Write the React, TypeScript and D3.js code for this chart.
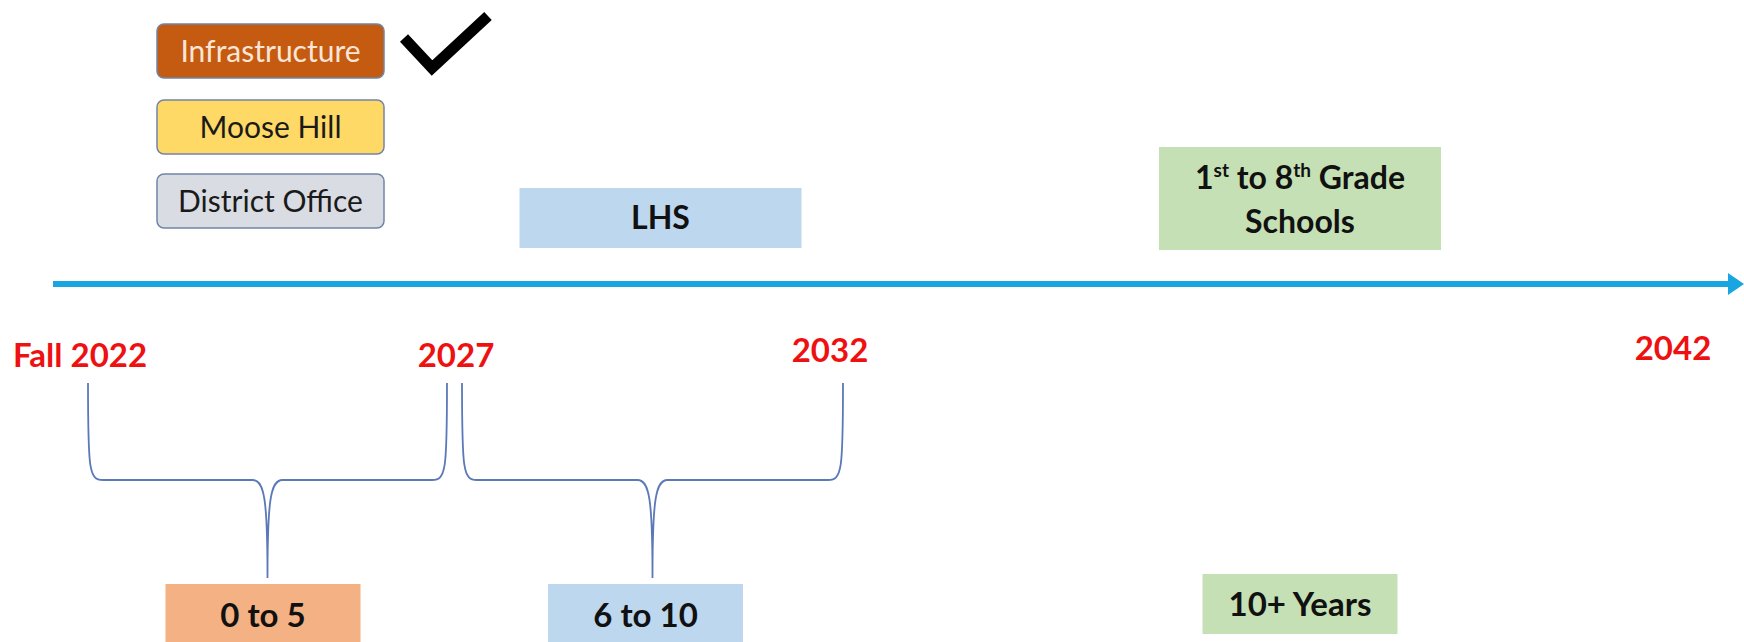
import React from "react";
import * as d3 from "d3";

// ---- data ----
const yearValues = [2022, 2027, 2032, 2042];
const yearLabels = ["Fall 2022", "2027", "2032", "2042"];
const legendLabels = ["Infrastructure", "Moose Hill", "District Office"];
const legendDone = [true, false, false];
const periodLabels = ["0 to 5", "6 to 10", "10+ Years"];
const periodStart = [2022, 2027, 2032];
const periodEnd = [2027, 2032, 2042];
const periodBraced = [true, true, false];
const projectLines = [["LHS"], ["1st to 8th Grade", "Schools"]];
const projectPeriod = [1, 2];

// ---- styles / layout ----
const W = 1744;
const H = 642;
const FONT = "Lato, 'Open Sans', sans-serif";
const legendFill = ["#C55A11", "#FFD966", "#D9DCE2"];
const legendText = ["#FBE5D6", "#1a1a1a", "#1a1a1a"];
const periodFill = ["#F4B183", "#BDD7EE", "#C5E0B4"];
const projectFill = ["#BDD7EE", "#C5E0B4"];

const x = d3.scaleLinear().domain(yearValues).range([88, 454, 843, 1673]);
const labelShift = [-8, 2, -13, 0];
const labelBaseline = [367, 367, 362, 360];
const periodBoxCenterShift = [-8, -3, 42];
const projectBoxCenterShift = [12, 42];

const axisY = 284;
const braceTop = 383;
const braceMid = 480;
const braceTip = 578;

function bracePath(x0: number, x1: number) {
  const cx = (x0 + x1) / 2;
  const r = 15;
  const p = d3.path();
  p.moveTo(x0, braceTop);
  p.bezierCurveTo(x0, braceMid - 10, x0 + 1, braceMid, x0 + r, braceMid);
  p.lineTo(cx - r, braceMid);
  p.bezierCurveTo(cx - 3, braceMid, cx, braceMid + 20, cx, braceTip);
  p.moveTo(cx, braceTip);
  p.bezierCurveTo(cx, braceMid + 20, cx + 3, braceMid, cx + r, braceMid);
  p.lineTo(x1 - r, braceMid);
  p.bezierCurveTo(x1 - 1, braceMid, x1, braceMid - 10, x1, braceTop);
  return p.toString();
}

function renderProjectLine(line: string, key: number, y: number, cx: number) {
  const parts = line.split(/(\d)(st|th)/).filter((s) => s !== "");
  const out: React.ReactNode[] = [];
  let sup = false;
  parts.forEach((s, i) => {
    if (s === "st" || s === "th") {
      out.push(
        <tspan key={i} fontSize={19} dy={-12}>
          {s}
        </tspan>
      );
      sup = true;
    } else {
      out.push(
        <tspan key={i} dy={sup ? 12 : 0}>
          {s}
        </tspan>
      );
      sup = false;
    }
  });
  return (
    <text key={key} x={cx} y={y} textAnchor="middle" fontFamily={FONT} fontWeight={700} fontSize={32} fill="#111">
      {out}
    </text>
  );
}

export default function App() {
  const legendX = 157;
  const legendW = 227;
  const legendH = 54;
  const legendY = [24, 100, 174];

  return (
    <svg width={W} height={H} style={{ position: "absolute", left: 0, top: 0, background: "#fff" }}>
      <rect x={0} y={0} width={W} height={H} fill="#fff" />
      {/* legend */}
      {legendLabels.map((l, i) => (
        <g key={l}>
          <rect x={legendX} y={legendY[i]} width={legendW} height={legendH} rx={7} fill={legendFill[i]} stroke="#7085A8" strokeWidth={1.5} />
          <text
            x={legendX + legendW / 2}
            y={legendY[i] + legendH / 2 + 11}
            textAnchor="middle"
            fontFamily={FONT}
            fontSize={30}
            fill={legendText[i]}
          >
            {l}
          </text>
          {legendDone[i] && (
            <polyline
              points={`${legendX + 247},${legendY[i] + 14} ${legendX + 275},${legendY[i] + 44} ${legendX + 331},${legendY[i] - 8}`}
              fill="none"
              stroke="#000"
              strokeWidth={11}
            />
          )}
        </g>
      ))}

      {/* projects above axis */}
      {projectLines.map((lines, i) => {
        const p = projectPeriod[i];
        const cx = (x(periodStart[p]) + x(periodEnd[p])) / 2 + projectBoxCenterShift[i];
        const w = 282;
        const h = lines.length === 1 ? 60 : 103;
        const y0 = lines.length === 1 ? 188 : 147;
        return (
          <g key={i}>
            <rect x={cx - w / 2} y={y0} width={w} height={h} fill={projectFill[i]} />
            {lines.map((ln, j) =>
              renderProjectLine(ln, j, lines.length === 1 ? y0 + h / 2 + 11 : y0 + 42 + j * 44, cx)
            )}
          </g>
        );
      })}

      {/* axis */}
      <line x1={53} y1={axisY} x2={1730} y2={axisY} stroke="#19A5E1" strokeWidth={6} />
      <path d={`M1728,${axisY - 11} L1744,${axisY} L1728,${axisY + 11} Z`} fill="#19A5E1" />

      {/* year labels */}
      {yearLabels.map((l, i) => (
        <text
          key={l}
          x={x(yearValues[i]) + labelShift[i]}
          y={labelBaseline[i]}
          textAnchor="middle"
          fontFamily={FONT}
          fontWeight={700}
          fontSize={33}
          fill="#EE1111"
        >
          {l}
        </text>
      ))}

      {/* braces */}
      {periodLabels.map((l, i) =>
        periodBraced[i] ? (
          <path
            key={l}
            d={bracePath(x(periodStart[i]) + (i === 0 ? 0 : 8), x(periodEnd[i]) - (i === 0 ? 7 : 0))}
            fill="none"
            stroke="#5B79B8"
            strokeWidth={1.8}
          />
        ) : null
      )}

      {/* period boxes */}
      {periodLabels.map((l, i) => {
        const cx = (x(periodStart[i]) + x(periodEnd[i])) / 2 + periodBoxCenterShift[i];
        const w = 195;
        const y0 = i === 2 ? 574 : 584;
        const h = i === 2 ? 60 : 70;
        return (
          <g key={l}>
            <rect x={cx - w / 2} y={y0} width={w} height={h} fill={periodFill[i]} />
            <text
              x={cx}
              y={i === 2 ? 616 : 627}
              textAnchor="middle"
              fontFamily={FONT}
              fontWeight={700}
              fontSize={33}
              fill="#111"
            >
              {l}
            </text>
          </g>
        );
      })}
    </svg>
  );
}
